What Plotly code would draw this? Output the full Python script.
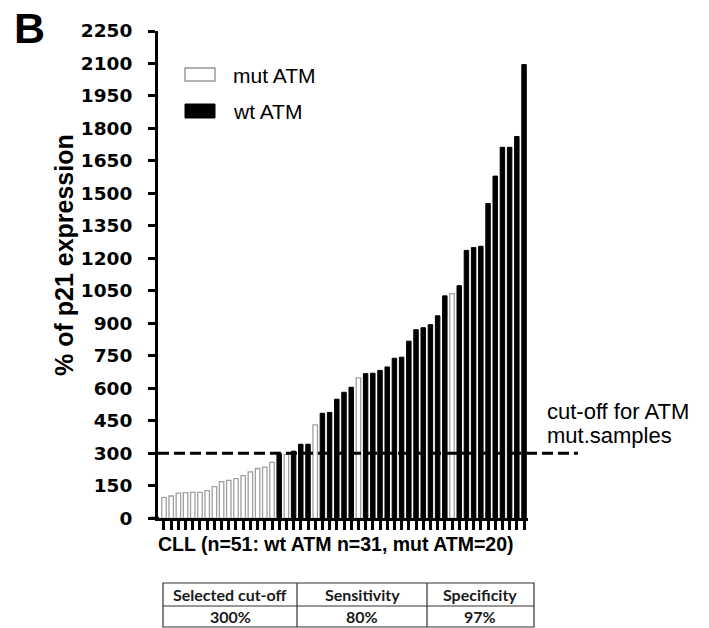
import plotly.graph_objects as go

# ---- data ----
samples = [f"CLL{i}" for i in range(1, 52)]
p21_pct = [97, 103, 116, 119, 120, 120, 128, 146, 169, 175, 183, 197, 214, 230, 236, 258,
           300, 295, 310, 342, 342, 431, 485, 489, 550, 582, 605, 648, 668, 670, 683, 699,
           739, 744, 818, 871, 880, 894, 935, 1027, 1037, 1074, 1237, 1250, 1256, 1453,
           1580, 1713, 1713, 1763, 2095]
atm_status = ["mut"] * 16 + ["wt", "mut", "wt", "wt", "wt", "mut"] + ["wt"] * 5 + ["mut"] + \
             ["wt"] * 12 + ["mut"] + ["wt"] * 10
cutoff = 300
y_ticks = list(range(0, 2251, 150))
table_header = ["Selected cut-off", "Sensitivity", "Specificity"]
table_values = ["300%", "80%", "97%"]
legend_labels = ["mut ATM", "wt ATM"]

W, H = 709, 628
def px(x):
    return x / W
def py(y):
    return (H - y) / H

mut_x = [s for s, a in zip(samples, atm_status) if a == "mut"]
mut_y = [v for v, a in zip(p21_pct, atm_status) if a == "mut"]
wt_x = [s for s, a in zip(samples, atm_status) if a == "wt"]
wt_y = [v for v, a in zip(p21_pct, atm_status) if a == "wt"]

fig = go.Figure()
fig.add_trace(go.Bar(x=mut_x, y=mut_y, name="mut ATM", width=0.62,
                     marker=dict(color="white", line=dict(color="#a0a0a0", width=1.3)),
                     showlegend=False))
fig.add_trace(go.Bar(x=wt_x, y=wt_y, name="wt ATM", width=0.62,
                     marker=dict(color="black", line=dict(color="black", width=1)),
                     showlegend=False))

fig.update_layout(
    width=W, height=H,
    margin=dict(l=0, r=0, t=0, b=0, pad=0, autoexpand=False),
    paper_bgcolor="white", plot_bgcolor="white",
    barmode="overlay",
    xaxis=dict(domain=[px(158), px(528)], type="category", categoryorder="array",
               categoryarray=samples, range=[-0.83, 50.55], automargin=False,
               tickmode="array", tickvals=samples,
               showticklabels=False, ticks="outside", ticklen=9, tickwidth=3,
               tickcolor="black", showline=True, linewidth=3, linecolor="black",
               showgrid=False, zeroline=False),
    yaxis=dict(domain=[py(518.3), py(31)], range=[0, 2250], tickvals=y_ticks, automargin=False,
               ticks="outside", ticklen=7, tickwidth=2.5, tickcolor="black",
               showline=True, linewidth=3, linecolor="black", showgrid=False,
               zeroline=False, ticklabelstandoff=12,
               tickfont=dict(family="DejaVu Sans", size=18.5, color="black", weight="bold")),
)

# x-axis line stub extending left of the y axis
fig.add_shape(type="line", xref="paper", yref="y", x0=px(150), x1=px(159), y0=0, y1=0,
              line=dict(color="black", width=3))

# cut-off line
fig.add_shape(type="line", xref="paper", yref="y", x0=px(158), x1=px(578), y0=cutoff, y1=cutoff,
              line=dict(color="black", width=3, dash="11px,5px"), layer="above")

# legend boxes
fig.add_shape(type="rect", xref="paper", yref="paper", x0=px(185), x1=px(215), y0=py(81), y1=py(68),
              fillcolor="white", line=dict(color="#999999", width=1.5))
fig.add_shape(type="rect", xref="paper", yref="paper", x0=px(185), x1=px(215), y0=py(118), y1=py(104),
              fillcolor="black", line=dict(color="black", width=1))

def note(text, x, y, size, family="Liberation Sans", bold=False, xanchor="left", angle=0, color="black"):
    fig.add_annotation(text=text, x=px(x), y=py(y), xref="paper", yref="paper",
                       xanchor=xanchor, yanchor="middle", showarrow=False, textangle=angle,
                       font=dict(family=family, size=size, color=color,
                                 weight="bold" if bold else "normal"))

note(legend_labels[0], 231, 75, 21)
note(legend_labels[1], 231, 112, 21)
note("cut-off for ATM", 545, 411, 22)
note("mut.samples", 545, 435, 22)
note("B", 30, 28, 43, bold=True, xanchor="center")
note("% of p21 expression", 64, 255, 25, bold=True, xanchor="center", angle=-90)
note("CLL (n=51: wt ATM n=31, mut ATM=20)", 335.5, 543.5, 19.5, bold=True, xanchor="center")

# table (grid lines + cell text)
col_edges = [163, 297, 427, 534]
row_edges = [583, 606, 627]
tline = dict(color="#333333", width=1.2)
fig.add_shape(type="rect", xref="paper", yref="paper", x0=px(col_edges[0]), x1=px(col_edges[-1]),
              y0=py(row_edges[-1]), y1=py(row_edges[0]), line=tline, fillcolor="rgba(0,0,0,0)")
fig.add_shape(type="line", xref="paper", yref="paper", x0=px(col_edges[0]), x1=px(col_edges[-1]),
              y0=py(row_edges[1]), y1=py(row_edges[1]), line=tline)
for cx in col_edges[1:-1]:
    fig.add_shape(type="line", xref="paper", yref="paper", x0=px(cx), x1=px(cx),
                  y0=py(row_edges[-1]), y1=py(row_edges[0]), line=tline)
for i in range(3):
    cxm = (col_edges[i] + col_edges[i + 1]) / 2
    note(table_header[i], cxm, (row_edges[0] + row_edges[1]) / 2, 16, family="Lato", bold=True,
         xanchor="center", color="#1a1a1a")
    note(table_values[i], cxm, (row_edges[1] + row_edges[2]) / 2, 16, family="Lato", bold=True,
         xanchor="center", color="#1a1a1a")

fig.write_html("out.html", config={"displayModeBar": False})
